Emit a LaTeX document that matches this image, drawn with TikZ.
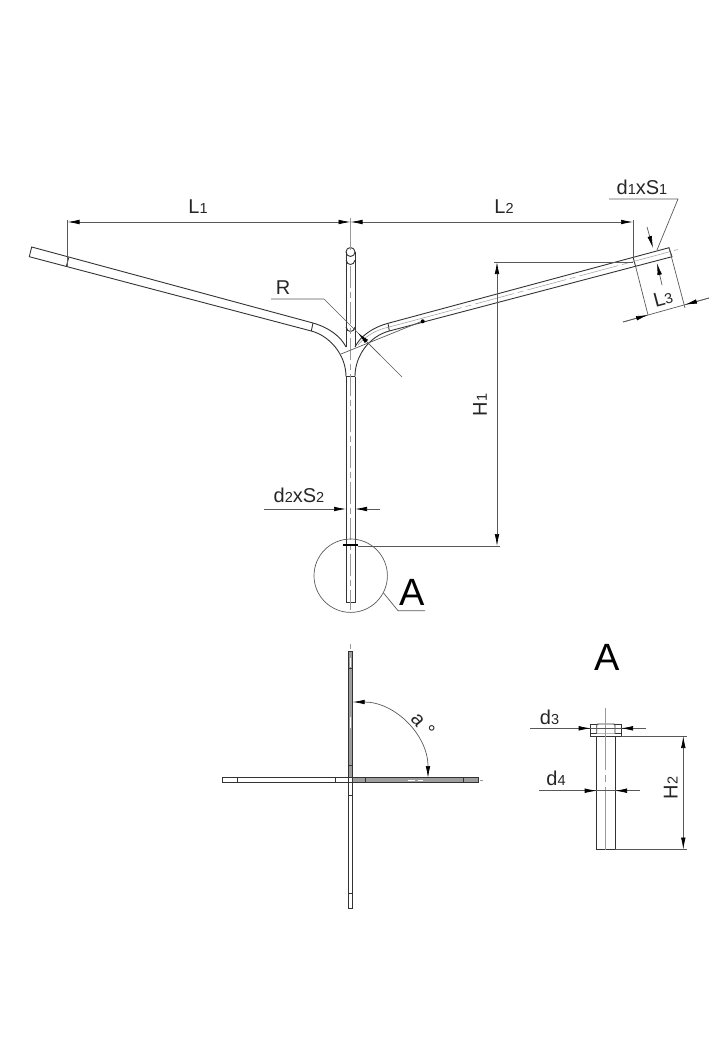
\documentclass[tikz,border=0pt]{standalone}
\usepackage{fontspec}
\setmainfont{Liberation Sans}
\usetikzlibrary{arrows.meta}
\newcommand{\sbs}[1]{{\fontsize{14.5}{14.5}\selectfont #1}}
\tikzset{
    part/.style={draw=black!80, line width=0.9pt},
    dimline/.style={draw=black!65, line width=0.7pt},
    axisline/.style={draw=black!40, line width=0.5pt},
    tag/.style={text=black!85, inner sep=0pt, font=\fontsize{20}{20}\selectfont},
    bigtag/.style={text=black, inner sep=0pt, font=\fontsize{38}{38}\selectfont},
    >={Latex[length=12pt,width=4.6pt,color=black]}
}

\begin{document}
\begin{tikzpicture}[x=1pt,y=-1pt]
        \useasboundingbox (0,0) rectangle (726,1041);

        % mast
        \draw[part] (346,252)--(346,347) (355,252)--(355,347);
        \draw[part] (346,376.5)--(346,602)--(355,602)--(355,376.5);
        \draw[part] (346,376.5)--(355,376.5);
        \draw[part] (350.5,252) circle[radius=4.5];
        \draw[part] (346,260) .. controls (347,266) and (354,266) .. (355,260);
        \draw[part] (346,327) .. controls (347,333) and (354,333) .. (355,327);
        \draw[axisline] (350.5,218)--(350.5,250);
        \draw[axisline, dash pattern=on 22pt off 4pt on 6pt off 4pt] (350.5,266)--(350.5,610);
        \draw[black, line width=1.6pt] (343,545)--(358,545);

        % left arm
        \draw[part] (313,323)--(31.7,247)--(29.3,256.7)--(311.3,331);
        \draw[part] (68.7,257.5)--(66.3,266.5);
        \draw[part] (313,323)--(311.3,331);
        \draw[part] (313,323) .. controls (330,328) and (341,337) .. (346,347);
        \draw[part] (311.3,331) .. controls (330,336) and (346,355) .. (346,376.5);

        % right arm
        \draw[part] (388,323.3)--(669,247.7)--(672,256.7)--(389.3,331);
        \draw[part] (633,257)--(635.5,266);
        \draw[part] (388,323.3)--(389.3,331);
        \draw[part] (388,323.3) .. controls (371,328) and (360,337) .. (355,347);
        \draw[part] (389.3,331) .. controls (370,336) and (355,355) .. (355,376.5);
        \draw[axisline] (388,327.3) .. controls (372,331) and (363,339) .. (358,345);
        \draw[axisline] (388,327.3)--(423,318);
        \draw[axisline, dash pattern=on 40pt off 4pt on 6pt off 4pt] (423,318)--(678,249.5);
        \draw[dimline] (341,354)--(422.7,321);
        \fill[black] (422.7,321.3) circle[radius=2];

        % radius
        \node[tag] (labR) at (283,288) {R};
        \draw[dimline] (271,299)--(324,299)--(402,377);
        \draw[dimline, <-] (358,333)--(380,355);

        % span dimensions
        \draw[dimline, <->] (67.5,222)--(350.5,222);
        \draw[dimline, <->] (350.5,222)--(633,222);
        \draw[dimline] (67.5,220)--(67.5,266);
        \draw[dimline] (633,220)--(633,258);
        \node[tag] (labLa) at (198,207) {L\sbs{1}};
        \node[tag] (labLb) at (504,207) {L\sbs{2}};

        % height
        \draw[dimline] (494,262)--(633,262);
        \draw[dimline] (358,546)--(500,546);
        \draw[dimline, <->] (497,262)--(497,546);
        \node[tag, rotate=90] (labHa) at (480,405) {H\sbs{1}};

        % arm section
        \node[tag] (labDa) at (642,187) {d\sbs{1}xS\sbs{1}};
        \draw[dimline] (609,199)--(678,199)--(657,250);
        \draw[dimline, ->] (647,227)--(653,248);
        \draw[dimline, ->] (662,285)--(657,263);

        % end length
        \draw[dimline] (635.5,266)--(648,315);
        \draw[dimline] (669,247.7)--(685,308);
        \draw[dimline] (623,322)--(709,298);
        \draw[dimline, ->] (623,322)--(648,315);
        \draw[dimline, ->] (709,298)--(685,304.7);
        \node[tag, rotate=15] (labLc) at (663,298) {L\sbs{3}};

        % mast section
        \node[tag] (labDb) at (299,495) {d\sbs{2}xS\sbs{2}};
        \draw[dimline, ->] (264,509)--(346,509);
        \draw[dimline, ->] (380,509)--(355,509);

        % detail mark
        \draw[dimline] (350.7,575.7) circle[radius=36.7];
        \draw[dimline] (383.3,592.7)--(398,610.7)--(425,610.7);
        \node[bigtag] (labAa) at (412.5,592) {A};

        % plan view
        \draw[part, fill=white] (222.3,777.8) rectangle (348.3,782.2);
        \draw[part, fill=white] (348.3,782.2) rectangle (352.7,908);
        \draw[part, fill=black!38] (352.7,777.8) rectangle (478.7,782.2);
        \draw[part, fill=black!38] (348.3,651.7) rectangle (352.7,777.8);
        \fill[white] (348.8,778.3) rectangle (352.2,781.7);
        \foreach \ya in {668,765,795,893}
            \draw[part] (348.3,\ya)--(352.7,\ya);
        \foreach \xa in {237.7,335.7,365,463}
            \draw[part] (\xa,777.8)--(\xa,782.2);
        \foreach \ya/\yb in {658/667,717/728}
            \draw[white, line width=1pt] (350.5,\ya)--(350.5,\yb);
        \foreach \xa/\xb in {408/415,418/423}
            \draw[white, line width=1pt] (\xa,780)--(\xb,780);
        \draw[axisline] (350.5,644)--(350.5,649);
        \draw[axisline] (480,780)--(483,780);
        \draw[dimline, <->] (352.7,702) .. controls (395,702) and (428,735) .. (428,778);
        \node[tag, rotate=-50] (labAng) at (423,725) {a °};

        % detail A
        \node[bigtag] (labAb) at (607,657) {A};
        \draw[part] (596.7,736)--(596.7,849.5)--(615,849.5)--(615,736);
        \draw[part] (590.7,724) rectangle (621,736);
        \draw[part] (590.7,733.5)--(621,733.5);
        \draw[part, fill=white] (596.7,733.5)--(596.7,726) .. controls (596.7,724) .. (599,724)--(613,724) .. controls (615,724) .. (615,726)--(615,733.5);
        \draw[axisline, dash pattern=on 62pt off 5pt on 7pt off 5pt on 62pt off 0pt] (605.7,708)--(605.7,849.5);
        \draw[dimline] (530,728.3)--(646,728.3);
        \draw[dimline, ->] (566,728.3)--(590.7,728.3);
        \draw[dimline, ->] (646,728.3)--(621,728.3);
        \node[tag] (labDc) at (549.5,717) {d\sbs{3}};
        \draw[dimline] (539,790.7)--(640,790.7);
        \draw[dimline, ->] (570,790.7)--(596.7,790.7);
        \draw[dimline, ->] (640,790.7)--(615,790.7);
        \node[tag] (labDd) at (556,778) {d\sbs{4}};
        \draw[dimline] (621,736)--(687,736);
        \draw[dimline] (615,849.5)--(687,849.5);
        \draw[dimline, <->] (683.3,736)--(683.3,849.5);
        \node[tag, rotate=90] (labHb) at (670.7,788) {H\sbs{2}};
    \end{tikzpicture}
\end{document}
